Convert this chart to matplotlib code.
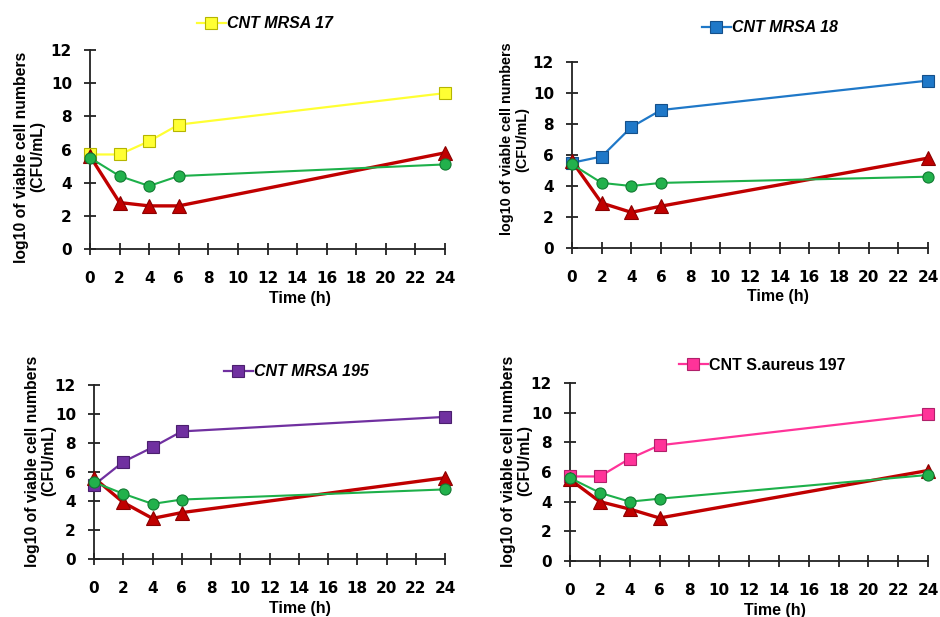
import matplotlib
matplotlib.use("Agg")
from matplotlib import pyplot as plt
from matplotlib.lines import Line2D

plt.rcParams['font.family'] = ['Liberation Sans', 'DejaVu Sans']

time_h = [0, 2, 4, 6, 24]
x_ticks = list(range(0, 25, 2))
y_ticks = list(range(0, 13, 2))

titles = ["CNT MRSA 17", "CNT MRSA 18", "CNT MRSA 195", "CNT S.aureus 197"]
italic_title = [True, True, True, False]

# control (CNT) curves
cnt_17 = [5.7, 5.7, 6.5, 7.5, 9.4]
cnt_18 = [5.5, 5.9, 7.8, 8.9, 10.8]
cnt_195 = [5.1, 6.7, 7.7, 8.8, 9.8]
cnt_197 = [5.7, 5.7, 6.9, 7.8, 9.9]

# green (circle) curves
green_17 = [5.5, 4.4, 3.8, 4.4, 5.1]
green_18 = [5.4, 4.2, 4.0, 4.2, 4.6]
green_195 = [5.3, 4.5, 3.8, 4.1, 4.8]
green_197 = [5.6, 4.6, 4.0, 4.2, 5.8]

# red (triangle) curves
red_17 = [5.6, 2.8, 2.6, 2.6, 5.8]
red_18 = [5.6, 2.9, 2.3, 2.7, 5.8]
red_195 = [5.6, 3.9, 2.8, 3.2, 5.6]
red_197 = [5.5, 4.0, 3.5, 2.9, 6.1]

cnt_data = [cnt_17, cnt_18, cnt_195, cnt_197]
green_data = [green_17, green_18, green_195, green_197]
red_data = [red_17, red_18, red_195, red_197]

cnt_colors = ["#FFFF33", "#1F78C8", "#7030A0", "#FF3399"]
cnt_edges = ["#B5B500", "#15508A", "#4B1F6E", "#B0206A"]

W, H = 940, 617
fig = plt.figure(figsize=(9.4, 6.17), dpi=100)

# pixel layout: (x0, x24, y12, y0) of each plotting area
boxes = [(90, 445, 50, 249), (572, 928, 62, 248), (94, 445, 385, 559), (570, 928, 383, 561)]
legend_pos = [(197, 24), (702, 28), (224, 372), (679, 365)]
ylab_pos = [(30, 157, 11.3), (515, 139, 10.4), (41, 461, 11.3), (517, 461, 11.3)]
xlab_pos = [(300, 298), (778, 297), (300, 608), (775, 610)]

for i in range(4):
    x0, x1, yt, yb = boxes[i]
    ax = fig.add_axes([x0 / W, (H - yb) / H, (x1 - x0) / W, (yb - yt) / H])
    ax.set_xlim(0, 24)
    ax.set_ylim(0, 12)
    ax.set_xticks(x_ticks)
    ax.set_yticks(y_ticks)
    for s in ['top', 'right']:
        ax.spines[s].set_visible(False)
    for s in ['left', 'bottom']:
        ax.spines[s].set_linewidth(1.3)
        ax.spines[s].set_color('#222222')
    ax.tick_params(axis='both', direction='inout', length=8, width=1.3, color='#222222')
    ax.tick_params(axis='x', pad=12)
    ax.tick_params(axis='y', pad=9)
    for lab in ax.get_xticklabels() + ax.get_yticklabels():
        lab.set_fontsize(11)
        lab.set_fontweight('bold')
        lab.set_family('DejaVu Sans')

    ax.plot(time_h, cnt_data[i], color=cnt_colors[i], lw=1.6, marker='s', ms=8,
            mfc=cnt_colors[i], mec=cnt_edges[i], mew=0.8, clip_on=False, zorder=3)
    ax.plot(time_h, red_data[i], color='#C00000', lw=2.4, marker='^', ms=10,
            mfc='#C00000', mec='#8A0000', mew=0.8, clip_on=False, zorder=4)
    ax.plot(time_h, green_data[i], color='#1DB04A', lw=1.5, marker='o', ms=8,
            mfc='#22B14C', mec='#127A32', mew=0.8, clip_on=False, zorder=5)

    handle = Line2D([], [], color=cnt_colors[i], lw=1.6, marker='s', ms=8,
                    mfc=cnt_colors[i], mec=cnt_edges[i], mew=0.8)
    lx, ly = legend_pos[i]
    fig.legend([handle], [titles[i]], loc='center left',
               bbox_to_anchor=(lx / W, (H - ly) / H), frameon=False,
               borderpad=0, borderaxespad=0, handlelength=1.8, handletextpad=0.1,
               prop={'size': 11.5, 'weight': 'bold',
                     'style': 'italic' if italic_title[i] else 'normal'})

    tx, ty, fs = ylab_pos[i]
    fig.text(tx / W, (H - ty) / H, "log10 of viable cell numbers\n(CFU/mL)",
             rotation=90, ha='center', va='center', multialignment='center',
             fontsize=fs, fontweight='bold', linespacing=1.1)
    xx, xy = xlab_pos[i]
    fig.text(xx / W, (H - xy) / H, "Time (h)", ha='center', va='center',
             fontsize=11.5, fontweight='bold')

fig.savefig("out.png", dpi=100)
